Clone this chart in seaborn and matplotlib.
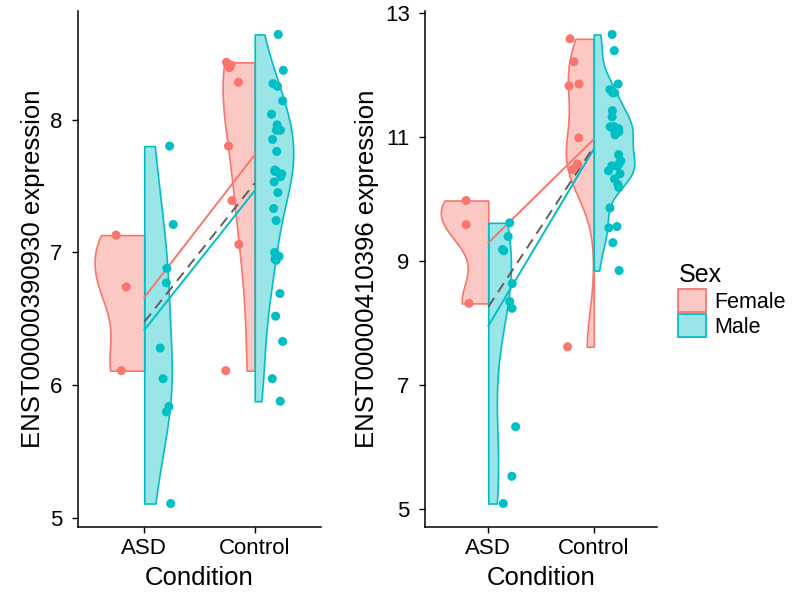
import numpy as np
import pandas as pd
import matplotlib
matplotlib.use("Agg")
import matplotlib.pyplot as plt
from matplotlib.patches import Patch
import seaborn as sns

np.random.seed(7)

# ---------------- data ----------------
conditions = ["ASD", "Control"]
sexes = ["Female", "Male"]

# Panel 1: ENST00000390930
p1_asd_female = [7.13, 6.74, 6.11]
p1_asd_male = [7.80, 7.21, 6.88, 6.77, 6.28, 6.05, 5.80, 5.84, 5.11]
p1_ctl_female = [8.41, 8.43, 8.39, 8.28, 7.80, 7.39, 7.06, 6.11]
p1_ctl_male = [8.64, 8.37, 8.27, 8.25, 8.14, 8.04, 7.96, 7.92, 7.92, 7.92,
               7.85, 7.76, 7.62, 7.61, 7.61, 7.59, 7.57, 7.53, 7.45, 7.33,
               7.24, 7.00, 6.97, 6.95, 6.94, 6.69, 6.52, 6.33, 6.05, 5.88]

# Panel 2: ENST00000410396
p2_asd_female = [9.97, 9.58, 8.31]
p2_asd_male = [9.61, 9.39, 9.18, 9.16, 8.63, 8.34, 8.23, 6.32, 5.52, 5.08]
p2_ctl_female = [12.58, 12.21, 11.82, 11.85, 10.98, 10.56, 10.47, 10.55, 7.61]
p2_ctl_male = [12.65, 12.39, 11.85, 11.71, 11.76, 11.71, 11.42, 11.32, 11.16,
               11.16, 11.16, 11.13, 11.08, 11.03, 11.10, 10.71, 10.60, 10.52,
               10.56, 10.61, 10.45, 10.40, 10.53, 10.32, 10.18, 10.23, 9.85,
               9.55, 9.53, 9.29, 8.84]

p1_label = "ENST00000390930 expression"
p2_label = "ENST00000410396 expression"
p1_ticks = [5, 6, 7, 8]
p2_ticks = [5, 7, 9, 11, 13]

colors = {"Female": "#F8766D", "Male": "#00BFC4"}


def make_df(af, am, cf, cm):
    rows = []
    for cond, sex, vals in [("ASD", "Female", af), ("ASD", "Male", am),
                            ("Control", "Female", cf), ("Control", "Male", cm)]:
        for v in vals:
            rows.append({"Condition": cond, "Sex": sex, "value": v})
    return pd.DataFrame(rows)


df1 = make_df(p1_asd_female, p1_asd_male, p1_ctl_female, p1_ctl_male)
df2 = make_df(p2_asd_female, p2_asd_male, p2_ctl_female, p2_ctl_male)


def nrd0(kde):
    """R's default bandwidth (bw.nrd0) expressed as a gaussian_kde factor."""
    x = np.asarray(kde.dataset).ravel()
    n = len(x)
    sd = np.std(x, ddof=1)
    iqr = np.subtract(*np.percentile(x, [75, 25]))
    lo = min(sd, iqr / 1.34) if iqr > 0 else sd
    h = 0.9 * lo * n ** (-0.2)
    return h / sd


sns.set_theme(style="ticks")
plt.rcParams["font.family"] = ["Liberation Sans", "DejaVu Sans"]
plt.rcParams["text.color"] = "black"
plt.rcParams["axes.labelcolor"] = "black"

fig = plt.figure(figsize=(8, 6.01), dpi=100)
ax1 = fig.add_axes([78 / 800, 1 - 527 / 601, 243 / 800, 516 / 601])
ax2 = fig.add_axes([425 / 800, 1 - 527 / 601, 232 / 800, 516 / 601])


def draw(ax, df, ylabel, ticks):
    sns.violinplot(data=df, x="Condition", y="value", hue="Sex",
                   order=conditions, hue_order=sexes, split=True,
                   inner=None, cut=0, density_norm="area", common_norm=True,
                   width=0.9, bw_method=nrd0, palette=colors, saturation=1,
                   linewidth=1.2, legend=False, ax=ax)
    for c in ax.collections:
        fc = c.get_facecolor()
        if len(fc):
            rgb = tuple(fc[0][:3])
            c.set_edgecolor(rgb + (1.0,))
            c.set_facecolor(rgb + (0.4,))
    # regression (group-mean) lines per sex and overall
    sns.lineplot(data=df, x="Condition", y="value", hue="Sex",
                 hue_order=sexes, palette=colors, estimator="mean",
                 errorbar=None, linewidth=1.4, legend=False, ax=ax, zorder=4)
    sns.lineplot(data=df, x="Condition", y="value", estimator="mean",
                 errorbar=None, color="#5f5f5f", linewidth=1.4,
                 dashes=False, linestyle=(0, (5.5, 3.5)), legend=False, ax=ax,
                 zorder=4)
    sns.stripplot(data=df, x="Condition", y="value", hue="Sex",
                  order=conditions, hue_order=sexes, dodge=True, jitter=0.13,
                  palette=colors, size=6.5, linewidth=0, legend=False,
                  ax=ax, zorder=5)
    vmin, vmax = df["value"].min(), df["value"].max()
    pad = 0.05 * (vmax - vmin)
    ax.set_ylim(vmin - pad, vmax + pad)
    ax.set_xlim(-0.6, 1.6)
    ax.set_yticks(ticks)
    ax.set_xticks([0, 1])
    ax.set_xticklabels(conditions)
    ax.set_xlabel("Condition", fontsize=18.5, labelpad=5, color="black")
    ax.set_ylabel(ylabel, fontsize=18.5, labelpad=4, color="black")
    ax.tick_params(axis="both", labelsize=16, length=4, width=1.0,
                   color="black", labelcolor="black")
    ax.tick_params(axis="y", pad=7)
    ax.tick_params(axis="x", pad=4)
    for side in ["top", "right"]:
        ax.spines[side].set_visible(False)
    for side in ["left", "bottom"]:
        ax.spines[side].set_color("black")
        ax.spines[side].set_linewidth(1.1)
    ax.grid(False)


draw(ax1, df1, p1_label, p1_ticks)
draw(ax2, df2, p2_label, p2_ticks)

handles = []
for s in sexes:
    r, g, b = matplotlib.colors.to_rgb(colors[s])
    handles.append(Patch(facecolor=(r, g, b, 0.4), edgecolor=(r, g, b, 1.0),
                         linewidth=1.3))
leg = fig.legend(handles, sexes, title="Sex", loc="center left",
                 bbox_to_anchor=(0.848, 0.5), frameon=False, fontsize=15.5,
                 title_fontsize=18, handlelength=1.3, handleheight=1.25,
                 handletextpad=0.35, labelspacing=0.08, borderaxespad=0,
                 borderpad=0)
leg._legend_box.align = "left"
for t in leg.get_texts():
    t.set_color("black")
leg.get_title().set_color("black")

fig.savefig("out.png", dpi=100)
